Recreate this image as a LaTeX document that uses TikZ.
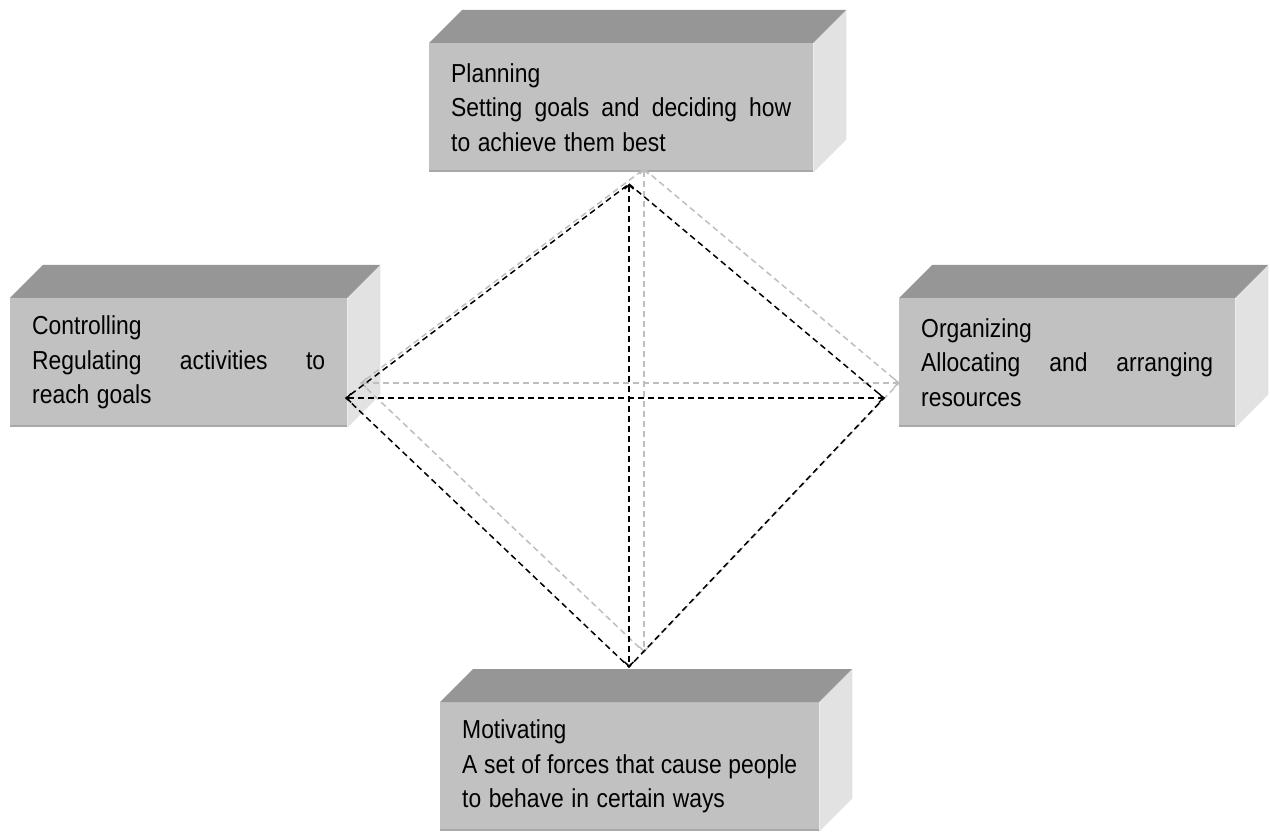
\documentclass[tikz,border=0pt]{standalone}
\usepackage{fontspec}
\setmainfont{Liberation Sans}[FakeStretch=0.88]
\usepackage{tikz}
\usetikzlibrary{arrows.meta}
\definecolor{frontgray}{RGB}{193,193,193}
\definecolor{topgray}{RGB}{150,150,150}
\definecolor{sidegray}{RGB}{226,226,226}
\definecolor{edgegray}{RGB}{168,168,168}
\definecolor{shadowgray}{RGB}{190,190,190}
\tikzset{
    front/.style={rectangle, fill=frontgray, anchor=north west, minimum height=129pt, inner xsep=22pt, inner ysep=0pt, align=left, font=\fontsize{26}{34.5}\selectfont, execute at begin node={\hyphenpenalty=10000\relax\spaceskip=7.5pt\relax}},
    topface/.style={fill=topgray},
    sideface/.style={fill=sidegray},
    bottomedge/.style={draw=edgegray, line width=2.5pt},
    link/.style={line width=1.5pt, dash pattern=on 6pt off 4pt},
    axis/.style={link, {Straight Barb[length=4pt,width=9pt]}-{Straight Barb[length=4pt,width=9pt]}}
}
\begin{document}
\begin{tikzpicture}[x=1pt, y=-1pt]
    \useasboundingbox (0,0) rectangle (1270,834);

    % Function boxes (front faces)
    \node[front, text width=340pt] (plan) at (429,43) {Planning\\Setting\hfill goals\hfill and\hfill deciding\hfill how\\to achieve them best};
    \node[front, text width=293pt] (ctrl) at (10,298) {Controlling\\Regulating\hfill activities\hfill to\\reach goals};
    \node[front, text width=292pt] (org) at (899,298) {Organizing\\Allocating\hfill and\hfill arranging\\resources};
    \node[front, text width=335pt] (motiv) at (440,702) {Motivating\\A\hfill set\hfill of\hfill forces\hfill that\hfill cause\hfill people\\to behave in certain ways};

    % Top and side faces
    \foreach \n in {plan,ctrl,org,motiv} {
        \fill[topface] (\n.north west) -- (\n.north east) -- ++(33,-33) -- ([shift={(33,-33)}]\n.north west) -- cycle;
        \fill[sideface] (\n.north east) -- (\n.south east) -- ++(33,-33) -- ([shift={(33,-33)}]\n.north east) -- cycle;
        \draw[bottomedge] ([yshift=1.25pt]\n.south west) -- ([yshift=1.25pt]\n.south east);
    }

    % Diamond corners
    \coordinate (top) at (629,184);
    \coordinate (bottom) at (629,667);
    \coordinate (left) at (346,398);
    \coordinate (right) at (884,398);
    \coordinate (gtop) at (644,169);
    \coordinate (gbottom) at (644,652);
    \coordinate (gleft) at (361,383);
    \coordinate (gright) at (899,383);

    % Shadow diamond
    \draw[link, shadowgray] (gtop) -- (gright) -- (gbottom) -- (gleft) -- cycle;
    \draw[axis, shadowgray] (gtop) -- (gbottom);
    \draw[axis, shadowgray] (gleft) -- (gright);

    % Diamond
    \draw[link] (top) -- (right) -- (bottom) -- (left) -- cycle;
    \draw[axis] (top) -- (bottom);
    \draw[axis] (left) -- (right);
\end{tikzpicture}
\end{document}
